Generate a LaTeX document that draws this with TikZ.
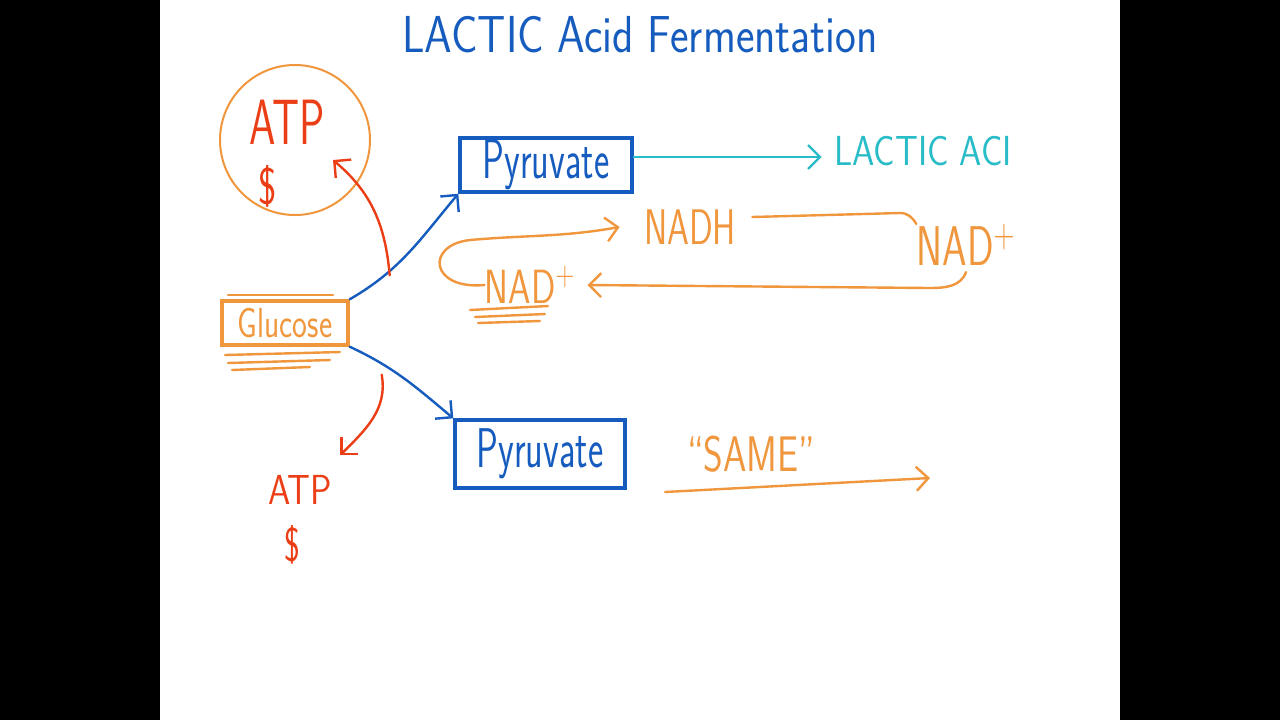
\documentclass[tikz,border=0pt]{standalone}
\usepackage{graphicx}
\usetikzlibrary{arrows.meta,positioning}

\definecolor{penblue}{RGB}{22,92,190}
\definecolor{penorange}{RGB}{240,150,60}
\definecolor{penred}{RGB}{236,62,22}
\definecolor{pencyan}{RGB}{40,188,200}

% size, horizontal squeeze, text
\newcommand{\hand}[3]{\fontsize{#1}{#1}\selectfont\scalebox{#2}[1]{#3}}

\tikzset{
  ink/.style={font=\sffamily, inner sep=0pt},
  penline/.style={line width=1.2pt, line cap=round},
  penbox/.style={draw, line width=1.7pt, inner sep=0pt},
  barb/.style={-{Straight Barb[length=6pt,width=12pt]}},
}

\begin{document}
\begin{tikzpicture}[x=0.5pt,y=-0.5pt]
  \fill[black] (0,0) rectangle (1280,720);
  \fill[white] (160,0) rectangle (1120,720);

  % Define nodes
  \node[ink, text=penblue]                        (title)    at (640,35)  {\hand{26}{0.85}{LACTIC Acid Fermentation}};
  \node[circle, draw=penorange, line width=1pt, minimum size=75pt] (atp-ring) at (295,140) {};
  \node[ink, text=penred]                         (atp-top)  at (287,122) {\hand{32}{0.66}{ATP}};
  \node[ink, text=penred]                         (cash-top) at (268,186) {\hand{26}{0.75}{\$}};
  \node[penbox, draw=penorange, minimum width=63pt, minimum height=22pt]
                                                  (glucose)  at (285,323) {\textcolor{penorange}{\sffamily\hand{21}{0.75}{Glucose}}};
  \node[penbox, draw=penblue, minimum width=86pt, minimum height=27pt]
                                                  (pyr-top)  at (546,165) {\textcolor{penblue}{\sffamily\hand{28}{0.65}{Pyruvate}}};
  \node[penbox, draw=penblue, minimum width=85pt, minimum height=34pt]
                                                  (pyr-bot)  at (540,454) {\textcolor{penblue}{\sffamily\hand{28}{0.65}{Pyruvate}}};
  \node[ink, text=pencyan, right=100pt of pyr-top, yshift=7pt] (lactic) {\hand{21}{0.85}{LACTIC ACI}};
  \node[ink, text=penorange]                      (nadh)     at (690,227) {\hand{25}{0.7}{NADH}};
  \node[ink, text=penorange]                      (nad-r)    at (966,245) {\hand{28}{0.7}{NAD$^+$}};
  \node[ink, text=penorange]                      (nad-l)    at (530,285) {\hand{24}{0.75}{NAD$^+$}};
  \node[ink, text=penred]                         (atp-bot)  at (300,490) {\hand{21}{0.85}{ATP}};
  \node[ink, text=penred, below=10pt of atp-bot, xshift=-4pt] (cash-bot) {\hand{24}{0.7}{\$}};
  \node[ink, text=penorange, right=30pt of pyr-bot] (same) {\hand{25}{0.75}{``SAME''}};
  \coordinate (same-from) at (665,492);
  \coordinate (same-to)   at (930,478);

  % Connect the nodes
  \draw[penline, penblue, barb] (glucose.north east) to[out=30,in=-130] (pyr-top.south west);
  \draw[penline, penblue, barb] (glucose.south east) to[out=-25,in=140] (pyr-bot.north west);
  \draw[penline, penred, barb] ([xshift=20pt,yshift=12pt]glucose.north east) to[out=95,in=-40] ([xshift=19pt,yshift=-10pt]atp-ring.center);
  \draw[penline, penred, barb] ([xshift=16pt,yshift=-14pt]glucose.south east) to[out=-80,in=45] ([xshift=4pt,yshift=10pt]atp-bot.north east);
  \draw[penline, pencyan, barb] ([yshift=4pt]pyr-top.east) -- ([xshift=-6pt,yshift=4pt]pyr-top.east -| lactic.west);
  \draw[penline, penorange] (nadh.east) ++(8pt,5pt) -- (900,213) to[out=0,in=120] (nad-r.north west);
  \draw[penline, penorange, barb] ([yshift=-3pt]nad-r.south) to[out=-110,in=0] (930,288) -- ([xshift=6pt]nad-l.east);
  \draw[penline, penorange, barb] (nad-l.west) .. controls (430,290) and (425,245) .. (470,240) to[out=5,in=190] ([xshift=-12pt]nadh.west);
  \draw[penline, penorange, barb] (same-from) -- (same-to);

  % Underlines
  \draw[penline, penorange] (228,295) -- (333,295);
  \draw[penline, penorange] (225,355) -- (340,352) (228,363) -- (330,360) (232,370) -- (310,367);
  \draw[penline, penorange] (470,310) -- (548,306) (475,317) -- (545,314) (478,323) -- (540,321);
\end{tikzpicture}
\end{document}
